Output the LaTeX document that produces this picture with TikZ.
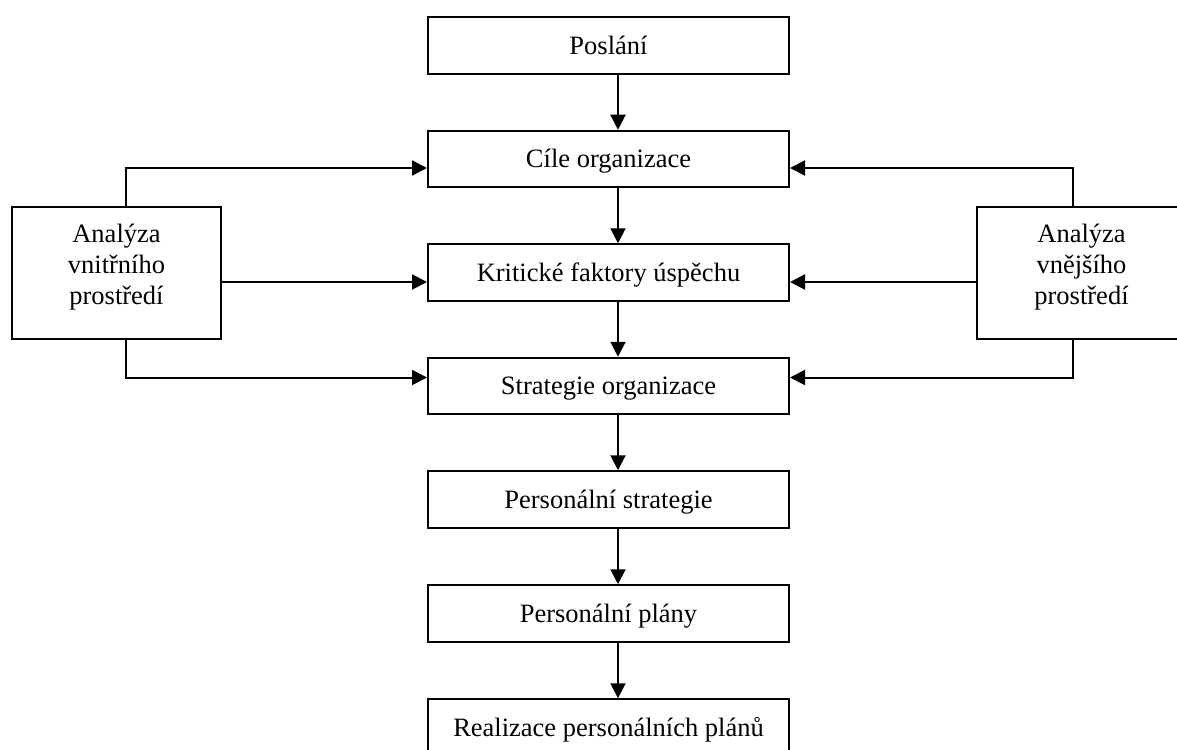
\documentclass[tikz,border=0pt]{standalone}
\usepackage{fontspec}
\setmainfont{Liberation Serif}
\usetikzlibrary{arrows.meta}
\begin{document}
\begin{tikzpicture}[x=1pt,y=-1pt,
  box/.style={draw,line width=2pt,minimum width=361pt,minimum height=56.5pt,inner sep=0pt,text height=17.5pt,text depth=0pt,font=\fontsize{26.5}{31}\selectfont},
  side/.style={draw,line width=2pt,minimum width=209pt,minimum height=132pt,inner sep=0pt},
  sidetext/.style={align=center,anchor=base,inner sep=0pt,font=\fontsize{26.5}{31}\selectfont},
  conn/.style={line width=2pt,-{Triangle[length=15pt,width=15pt]}}]
\useasboundingbox (0,0) rectangle (1177,749);
\node[box] (p) at (608.5,45.5) {Poslání};
\node[box] (c) at (608.5,159) {Cíle organizace};
\node[box] (k) at (608.5,272.5) {Kritické faktory úspěchu};
\node[box] (s) at (608.5,386) {Strategie organizace};
\node[box] (ps) at (608.5,499.5) {Personální strategie};
\node[box] (pp) at (608.5,613.5) {Personální plány};
\node[box] (r) at (608.5,727.5) {Realizace personálních plánů};
\node[side] (L) at (116.5,273) {};
\node[sidetext] (Lt) at (116.5,304) {Analýza\\vnitřního\\prostředí};
\node[side] (R) at (1081.5,273) {};
\node[sidetext] (Rt) at (1081.5,304) {Analýza\\vnějšího\\prostředí};
\coordinate (ax) at (618,0);
\coordinate (lx) at (126,0);
\coordinate (rx) at (1073,0);
\coordinate (y1) at (0,168);
\coordinate (y2) at (0,282);
\coordinate (y3) at (0,377.5);
\draw[conn] (p.south -| ax) -- (c.north -| ax);
\draw[conn] (c.south -| ax) -- (k.north -| ax);
\draw[conn] (k.south -| ax) -- (s.north -| ax);
\draw[conn] (s.south -| ax) -- (ps.north -| ax);
\draw[conn] (ps.south -| ax) -- (pp.north -| ax);
\draw[conn] (pp.south -| ax) -- (r.north -| ax);
\draw[conn] (L.north -| lx) |- (c.west |- y1);
\draw[conn] (L.east |- y2) -- (k.west |- y2);
\draw[conn] (L.south -| lx) |- (s.west |- y3);
\draw[conn] (R.north -| rx) |- (c.east |- y1);
\draw[conn] (R.west |- y2) -- (k.east |- y2);
\draw[conn] (R.south -| rx) |- (s.east |- y3);
\end{tikzpicture}
\end{document}
